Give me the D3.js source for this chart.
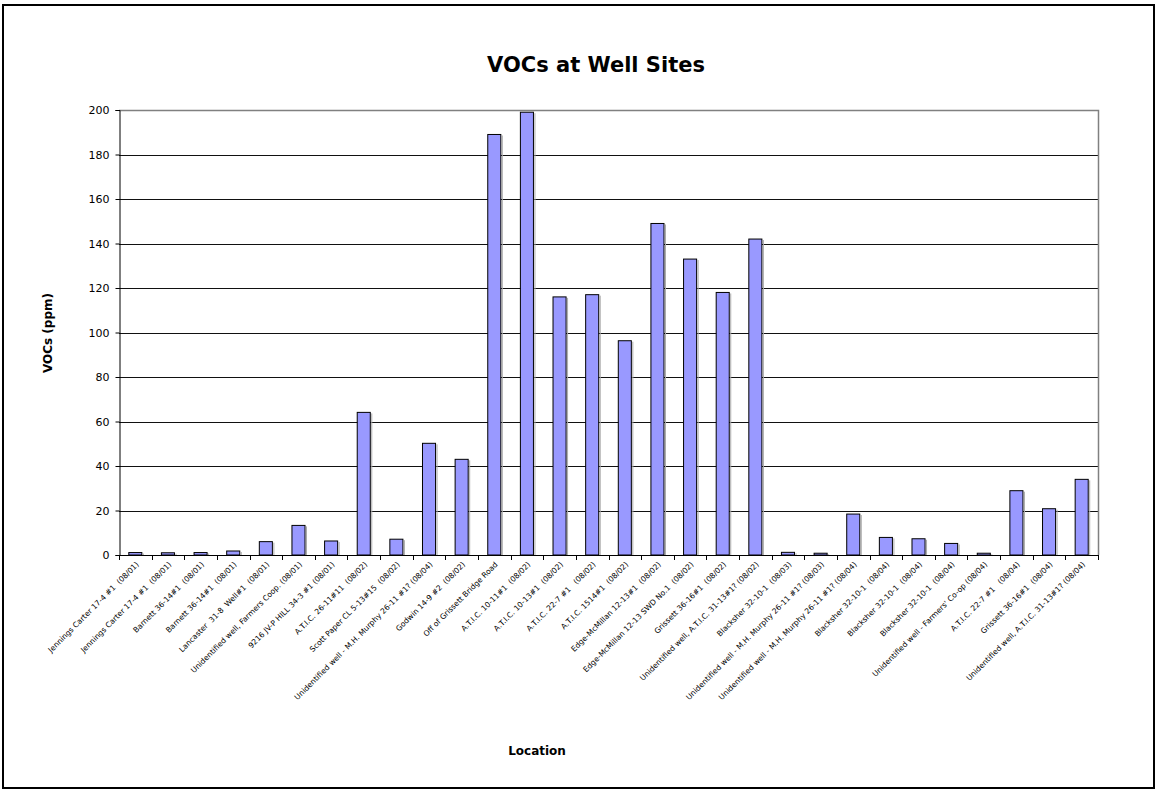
<!DOCTYPE html>
<html>
<head>
<meta charset="utf-8">
<script src="https://cdn.jsdelivr.net/npm/d3@7"></script>
<style>
  html, body { margin: 0; padding: 0; background: #fff; }
  svg { display: block; font-family: "DejaVu Sans", sans-serif; }
  .xlab { white-space: pre; }
</style>
</head>
<body>
<svg id="chart" width="1159" height="792"></svg>
<script>
// Well site names with sampling month
const locations = [
  "Jennings Carter 17-4 #1  (08/01)",
  "Jennings Carter 17-4 #1  (08/01)",
  "Barnett 36-14#1  (08/01)",
  "Barnett 36-14#1  (08/01)",
  "Lancaster  31-8  Well#1  (08/01)",
  "Unidentified well, Farmers Coop. (08/01)",
  "9216 JV-P HILL 34-3 #1 (08/01)",
  "A.T.I.C. 26-11#11  (08/02)",
  "Scott Paper CL 5-13#15  (08/02)",
  "Unidentified well - M.H. Murphy 26-11 #1? (08/04)",
  "Godwin 14-9 #2  (08/02)",
  "Off of Grissett Bridge Road",
  "A.T.I.C. 10-11#1  (08/02)",
  "A.T.I.C. 10-13#1  (08/02)",
  "A.T.I.C. 22-7 #1   (08/02)",
  "A.T.I.C. 1514#1  (08/02)",
  "Edge-McMillan 12-13#1  (08/02)",
  "Edge-McMillan 12-13 SWD No.1  (08/02)",
  "Grissett 36-16#1  (08/02)",
  "Unidentified well, A.T.I.C. 31-13#1? (08/02)",
  "Blacksher 32-10-1  (08/03)",
  "Unidentified well - M.H. Murphy 26-11 #1? (08/03)",
  "Unidentified well - M.H. Murphy 26-11 #1? (08/04)",
  "Blacksher 32-10-1  (08/04)",
  "Blacksher 32-10-1  (08/04)",
  "Blacksher 32-10-1  (08/04)",
  "Unidentified well - Farmers' Co-op (08/04)",
  "A.T.I.C. 22-7 #1   (08/04)",
  "Grissett 36-16#1  (08/04)",
  "Unidentified well, A.T.I.C. 31-13#1? (08/04)"
];

// VOC readings, ppm
const vocs = [
  1.1, 1.0, 1.1, 1.8, 6.0, 13.3, 6.3, 64.1, 7.1, 50.2,
  43.0, 189, 199, 116, 117, 96.3, 149, 133, 118, 142,
  1.2, 0.8, 18.4, 7.9, 7.3, 5.2, 0.8, 28.9, 20.8, 34.0
];

const yTicks = [0, 20, 40, 60, 80, 100, 120, 140, 160, 180, 200];

const titleText = "VOCs at Well Sites";
const yTitle = "VOCs (ppm)";
const xTitle = "Location";

const svg = d3.select("#chart");

// outer chart frame
svg.append("rect")
  .attr("x", 3).attr("y", 5)
  .attr("width", 1151).attr("height", 783)
  .attr("fill", "#fff")
  .attr("stroke", "#000")
  .attr("stroke-width", 2);

const plot = { left: 119, right: 1098, top: 110, bottom: 555 };

const idx = d3.range(locations.length);
const x = d3.scaleBand()
  .domain(idx)
  .range([plot.left, plot.right])
  .paddingInner(0.6)
  .paddingOuter(0.3);

const y = d3.scaleLinear()
  .domain([0, 200])
  .range([plot.bottom, plot.top]);

// horizontal gridlines
svg.append("g")
  .selectAll("line")
  .data(yTicks.filter(t => t > 0 && t < 200))
  .join("line")
  .attr("x1", plot.left).attr("x2", plot.right)
  .attr("y1", d => Math.round(y(d)) + 0.5)
  .attr("y2", d => Math.round(y(d)) + 0.5)
  .attr("stroke", "#111")
  .attr("stroke-width", 1);

// plot area border (top and right)
svg.append("path")
  .attr("d", `M${plot.left},${plot.top + 0.5}H${plot.right + 0.5}V${plot.bottom}`)
  .attr("fill", "none")
  .attr("stroke", "#808080")
  .attr("stroke-width", 1.5);

// bars, with a faint grey edge on the right side
const bars = svg.append("g");
bars.selectAll("line")
  .data(idx)
  .join("line")
  .attr("x1", i => x(i) + x.bandwidth() + 1.5)
  .attr("x2", i => x(i) + x.bandwidth() + 1.5)
  .attr("y1", i => y(vocs[i]) + 1)
  .attr("y2", plot.bottom)
  .attr("stroke", "#aaa")
  .attr("stroke-width", 1);
bars.selectAll("rect")
  .data(idx)
  .join("rect")
  .attr("x", i => x(i))
  .attr("y", i => y(vocs[i]))
  .attr("width", x.bandwidth())
  .attr("height", i => y(0) - y(vocs[i]))
  .attr("fill", "#9999FF")
  .attr("stroke", "#000")
  .attr("stroke-width", 1);

// y axis
const yAxis = d3.axisLeft(y)
  .tickValues(yTicks)
  .tickSize(4)
  .tickPadding(6)
  .tickFormat(d3.format("d"));

const gy = svg.append("g")
  .attr("transform", `translate(${plot.left + 0.5},0)`)
  .call(yAxis);
gy.select(".domain").attr("stroke", "#000");
gy.selectAll(".tick line").attr("stroke", "#000");
gy.selectAll(".tick text")
  .attr("font-family", "DejaVu Sans, sans-serif")
  .attr("font-size", 11)
  .attr("fill", "#000");

// x axis: ticks at category boundaries
const boundaries = d3.range(locations.length + 1).map(i => plot.left + i * (plot.right - plot.left) / locations.length);
svg.append("line")
  .attr("x1", plot.left).attr("x2", plot.right + 1)
  .attr("y1", plot.bottom + 0.5).attr("y2", plot.bottom + 0.5)
  .attr("stroke", "#000");
svg.append("g")
  .selectAll("line")
  .data(boundaries)
  .join("line")
  .attr("x1", d => Math.round(d) + 0.5).attr("x2", d => Math.round(d) + 0.5)
  .attr("y1", plot.bottom).attr("y2", plot.bottom + 5)
  .attr("stroke", "#000");

// rotated category labels
svg.append("g")
  .selectAll("text")
  .data(idx)
  .join("text")
  .attr("class", "xlab")
  .attr("transform", i => `translate(${x(i) + x.bandwidth() / 2 + 4},${plot.bottom + 10}) rotate(-45)`)
  .attr("text-anchor", "end")
  .attr("font-size", 7.6)
  .attr("fill", "#000")
  .text(i => locations[i]);

// titles
svg.append("text")
  .attr("x", 596).attr("y", 72)
  .attr("text-anchor", "middle")
  .attr("font-size", 21)
  .attr("font-weight", "bold")
  .text(titleText);

svg.append("text")
  .attr("transform", "translate(52,333) rotate(-90)")
  .attr("text-anchor", "middle")
  .attr("font-size", 12)
  .attr("font-weight", "bold")
  .text(yTitle);

svg.append("text")
  .attr("x", 537).attr("y", 755)
  .attr("text-anchor", "middle")
  .attr("font-size", 12)
  .attr("font-weight", "bold")
  .text(xTitle);
</script>
</body>
</html>
